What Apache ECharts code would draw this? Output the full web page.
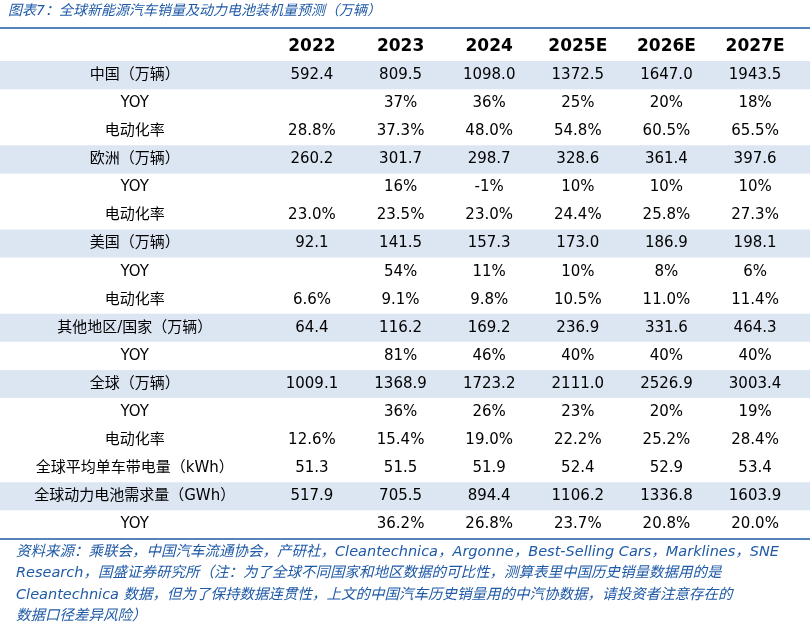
<!DOCTYPE html>
<html style="height: 100%">
<head>
    <meta charset="utf-8">
    <title>全球新能源汽车销量及动力电池装机量预测</title>
    <script type="text/javascript" src="https://cdn.jsdelivr.net/npm/echarts@6/dist/echarts.min.js"></script>
</head>
<body style="width: 100%;margin: 0;height: 100%">
<div id="container" style="width: 810px;height: 628px"></div>
<script type="application/javascript">

    var years = ['2022', '2023', '2024', '2025E', '2026E', '2027E'];
    var rowLabels = ['中国（万辆）', 'YOY', '电动化率', '欧洲（万辆）', 'YOY', '电动化率',
        '美国（万辆）', 'YOY', '电动化率', '其他地区/国家（万辆）', 'YOY', '全球（万辆）', 'YOY', '电动化率',
        '全球平均单车带电量（kWh）', '全球动力电池需求量（GWh）', 'YOY'];
    var cells = [
        ['592.4', '809.5', '1098.0', '1372.5', '1647.0', '1943.5'],
        ['', '37%', '36%', '25%', '20%', '18%'],
        ['28.8%', '37.3%', '48.0%', '54.8%', '60.5%', '65.5%'],
        ['260.2', '301.7', '298.7', '328.6', '361.4', '397.6'],
        ['', '16%', '-1%', '10%', '10%', '10%'],
        ['23.0%', '23.5%', '23.0%', '24.4%', '25.8%', '27.3%'],
        ['92.1', '141.5', '157.3', '173.0', '186.9', '198.1'],
        ['', '54%', '11%', '10%', '8%', '6%'],
        ['6.6%', '9.1%', '9.8%', '10.5%', '11.0%', '11.4%'],
        ['64.4', '116.2', '169.2', '236.9', '331.6', '464.3'],
        ['', '81%', '46%', '40%', '40%', '40%'],
        ['1009.1', '1368.9', '1723.2', '2111.0', '2526.9', '3003.4'],
        ['', '36%', '26%', '23%', '20%', '19%'],
        ['12.6%', '15.4%', '19.0%', '22.2%', '25.2%', '28.4%'],
        ['51.3', '51.5', '51.9', '52.4', '52.9', '53.4'],
        ['517.9', '705.5', '894.4', '1106.2', '1336.8', '1603.9'],
        ['', '36.2%', '26.8%', '23.7%', '20.8%', '20.0%']
    ];
    var shadedRows = [1, 4, 7, 10, 12, 16];

    var title = '图表7：全球新能源汽车销量及动力电池装机量预测（万辆）';
    var source = '资料来源：乘联会，中国汽车流通协会，产研社，Cleantechnica，Argonne，Best-Selling Cars，Marklines，SNE\n' +
        'Research，国盛证券研究所（注：为了全球不同国家和地区数据的可比性，测算表里中国历史销量数据用的是\n' +
        'Cleantechnica 数据，但为了保持数据连贯性，上文的中国汽车历史销量用的中汽协数据，请投资者注意存在的\n' +
        '数据口径差异风险）';

    var font = "'DejaVu Sans', 'Noto Sans CJK SC', sans-serif";
    var blue = '#1f5aa6';

    // 表格行: 0 = 表头, 1.. = 数据
    var rows = ['h'];
    for (var i = 0; i < rowLabels.length; i++) rows.push('r' + i);

    var textData = [];
    for (var c = 0; c < years.length; c++) textData.push([c, 0, years[c], 1]);
    for (var r = 0; r < rowLabels.length; r++) {
        textData.push([-2.0, r + 1, rowLabels[r], 0]);
        for (var c = 0; c < years.length; c++) {
            if (cells[r][c]) textData.push([c, r + 1, cells[r][c], 0]);
        }
    }

    var bandData = shadedRows.map(function (r) { return [0, r]; });

    var dom = document.getElementById("container");
    var myChart = echarts.init(dom);

    var option = {
        animation: false,
        backgroundColor: '#fff',
        grid: {left: 0, right: 0, top: 33, height: 19 * 26.6},
        xAxis: {type: 'value', min: -3.52, max: 5.62, show: false},
        yAxis: {type: 'category', data: rows, inverse: true, show: false},
        graphic: [
            {type: 'text', left: 8, top: 4, style: {text: title, fill: blue, font: 'italic 14px ' + font}},
            {type: 'line', shape: {x1: 0, y1: 28, x2: 810, y2: 28}, style: {stroke: blue, lineWidth: 1.5}},
            {type: 'line', shape: {x1: 0, y1: 539, x2: 810, y2: 539}, style: {stroke: blue, lineWidth: 1.5}},
            {type: 'text', left: 16, top: 541, style: {text: source, fill: blue, font: 'italic 14.5px ' + font, lineHeight: 21.5}}
        ],
        series: [
            {
                type: 'custom',
                silent: true,
                data: bandData,
                renderItem: function (params, api) {
                    var p = api.coord([0, shadedRows[params.dataIndex]]);
                    var h = api.size([0, 1])[1];
                    return {
                        type: 'rect',
                        shape: {x: 0, y: p[1] - h / 2, width: 810, height: h},
                        style: {fill: '#dce6f2'}
                    };
                },
                encode: {x: 0, y: 1}
            },
            {
                type: 'custom',
                silent: true,
                data: textData,
                renderItem: function (params, api) {
                    var p = api.coord([api.value(0), api.value(1)]);
                    var bold = api.value(3) === 1;
                    return {
                        type: 'text',
                        x: p[0], y: p[1],
                        style: {
                            text: textData[params.dataIndex][2],
                            fill: '#000',
                            font: (bold ? 'bold 17px ' : '15px ') + font,
                            align: 'center',
                            verticalAlign: 'middle'
                        }
                    };
                },
                encode: {x: 0, y: 1}
            }
        ]
    };

    myChart.setOption(option, true);
</script>
</body>
</html>
